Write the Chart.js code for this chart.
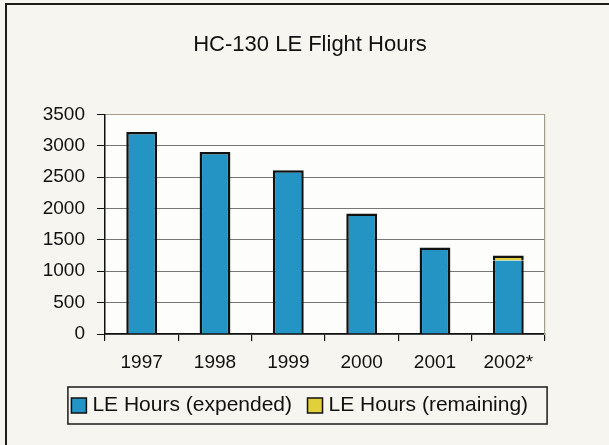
<!DOCTYPE html>
<html>
<head>
<meta charset="utf-8">
<script src="https://cdn.jsdelivr.net/npm/chart.js@4.4.1/dist/chart.umd.min.js"></script>
<style>
  html, body { margin: 0; padding: 0; background: #f6f5f0; }
  #wrap { position: relative; width: 609px; height: 445px; overflow: hidden; }
  #frame { position: absolute; left: 5px; top: 3px; width: 800px; height: 600px;
           border-left: 2px solid #1c1c1c; border-top: 2px solid #1c1c1c; }
  canvas { position: absolute; left: 0; top: 0; }
</style>
</head>
<body>
<div id="wrap">
  <div id="frame"></div>
  <canvas id="c" width="609" height="445"></canvas>
</div>
<script>
const chartTitle = 'HC-130 LE Flight Hours';
const years = ['1997', '1998', '1999', '2000', '2001', '2002*'];
const expended = [3220, 2900, 2610, 1920, 1380, 1170];
const remaining = [null, null, null, null, null, 80];
const seriesNames = ['LE Hours (expended)', 'LE Hours (remaining)'];
const yTicks = [0, 500, 1000, 1500, 2000, 2500, 3000, 3500];

const FONT = "'Liberation Sans', Arial, sans-serif";
const BLUE = '#2394c4';
const YELLOW = '#e2cf3c';

const plotBg = {
  id: 'plotBg',
  beforeDraw(chart) {
    const a = chart.chartArea, ctx = chart.ctx;
    ctx.save();
    ctx.fillStyle = '#fdfdfb';
    ctx.fillRect(a.left, a.top, a.right - a.left, a.bottom - a.top);
    ctx.restore();
  }
};

const legendShift = {
  id: 'legendShift',
  afterLayout(chart) {
    const lg = chart.legend;
    if (lg) { lg.left -= 8; lg.right -= 8; }
  }
};

const legendBox = {
  id: 'legendBox',
  afterDraw(chart) {
    const lg = chart.legend;
    if (!lg || !lg.legendHitBoxes || !lg.legendHitBoxes.length) return;
    const hb = lg.legendHitBoxes;
    let l = Infinity, r = -Infinity;
    hb.forEach(b => { l = Math.min(l, b.left); r = Math.max(r, b.left + b.width); });
    const ctx = chart.ctx;
    ctx.save();
    ctx.strokeStyle = '#1a1a1a';
    ctx.lineWidth = 1.5;
    ctx.strokeRect(l - 8, lg.top + 12, (r + 19) - (l - 8), 37);
    ctx.restore();
  }
};

new Chart(document.getElementById('c'), {
  type: 'bar',
  data: {
    labels: years,
    datasets: [
      {
        label: seriesNames[0],
        data: expended,
        backgroundColor: BLUE,
        borderColor: '#111',
        borderWidth: (c) => (c.dataIndex === 5 ? { top: 0, left: 2.5, right: 2.5, bottom: 0 } : 2.5),
        barPercentage: 0.42,
        categoryPercentage: 1
      },
      {
        label: seriesNames[1],
        data: remaining,
        backgroundColor: YELLOW,
        borderColor: '#111',
        borderWidth: 2.5,
        barPercentage: 0.42,
        categoryPercentage: 1
      }
    ]
  },
  options: {
    responsive: false,
    animation: false,
    devicePixelRatio: 1,
    layout: { padding: { left: 11, right: 0, top: 0, bottom: 19 } },
    plugins: {
      tooltip: { enabled: false },
      title: {
        display: true,
        text: chartTitle,
        color: '#111',
        font: { family: FONT, size: 22, weight: 'normal' },
        padding: { top: 32, bottom: 56 }
      },
      legend: {
        display: true,
        position: 'bottom',
        labels: {
          color: '#111',
          font: { family: FONT, size: 21 },
          usePointStyle: true,
          pointStyle: 'rect',
          boxWidth: 6,
          boxHeight: 15,
          padding: 20,
          generateLabels(chart) {
            const items = Chart.defaults.plugins.legend.labels.generateLabels(chart);
            items.forEach(it => { it.lineWidth = 1.5; it.strokeStyle = '#111'; it.pointStyle = 'rect'; });
            return items;
          }
        }
      }
    },
    scales: {
      x: {
        stacked: true,
        grid: { display: true, drawOnChartArea: false, drawTicks: true, tickLength: 7,
                color: '#111', lineWidth: 1.2, offset: true },
        border: { display: true, color: '#111', width: 1.5 },
        ticks: { color: '#111', font: { family: FONT, size: 19 }, padding: 10, maxRotation: 0 },
        afterFit(s) { s.height = 41; }
      },
      y: {
        stacked: true,
        min: 0,
        max: 3500,
        afterBuildTicks(s) { s.ticks = yTicks.map(v => ({ value: v })); },
        grid: {
          color: (c) => (c.tick && c.tick.value === 3500 ? '#a39c88' : '#777'),
          lineWidth: 1,
          tickColor: '#111',
          tickLength: 8,
          drawTicks: true
        },
        border: { display: true, color: '#111', width: 1.5 },
        ticks: {
          color: '#111',
          font: { family: FONT, size: 19 },
          padding: 12,
          callback: (v) => String(v)
        },
        afterFit(s) { s.width = 94; }
      },
      yR: {
        type: 'linear',
        position: 'right',
        display: true,
        grid: { display: false, drawTicks: false },
        ticks: { display: false },
        border: { display: true, color: '#a39c88', width: 1.2 },
        afterFit(s) { s.width = 64; }
      }
    }
  },
  plugins: [plotBg, legendShift, legendBox]
});
</script>
</body>
</html>
